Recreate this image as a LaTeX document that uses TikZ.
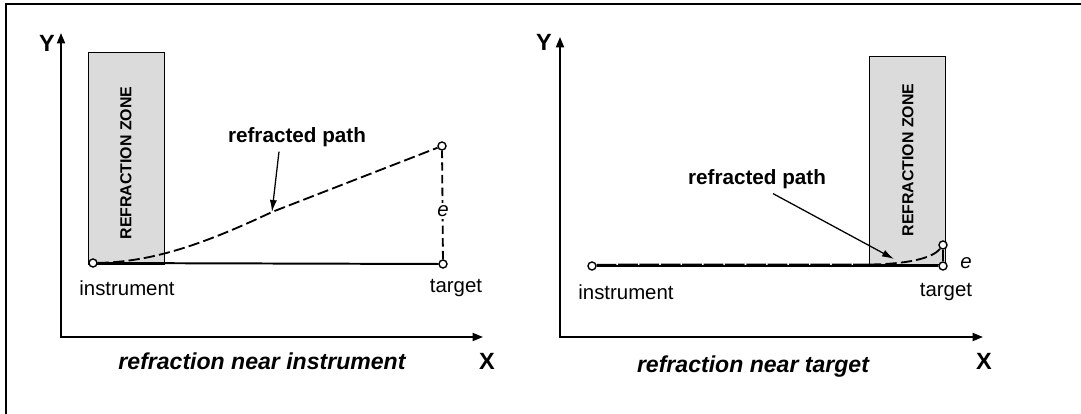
\documentclass[tikz,border=0pt]{standalone}
\usepackage{fontspec}
\setmainfont{Liberation Sans}
\usetikzlibrary{arrows.meta,positioning}
\tikzset{
    axes/.style={line width=1.4pt, {Triangle[length=2.6mm,width=2mm]}-{Triangle[length=2.6mm,width=2mm]}},
    zone/.style={draw, line width=0.6pt, fill=black!14, minimum width=1.9cm, inner sep=0pt},
    zonetext/.style={font=\bfseries\fontsize{11.3}{13}\selectfont, rotate=90},
    baseline/.style={line width=1.4pt},
    refracted/.style={line width=1.3pt, dash pattern=on 8pt off 3pt},
    offset/.style={line width=1.3pt, dash pattern=on 6pt off 3pt},
    station/.style={circle, draw, fill=white, line width=1pt, inner sep=0pt, minimum size=0.2cm},
    pointer/.style={line width=0.9pt, -{Latex[length=3mm,width=1.8mm]}},
    txt/.style={font=\fontsize{14.5}{17}\selectfont},
    pathlabel/.style={font=\bfseries\fontsize{14.7}{17}\selectfont},
    caption/.style={font=\bfseries\itshape\fontsize{16.4}{19}\selectfont},
    axislabel/.style={font=\bfseries\fontsize{16.7}{19}\selectfont},
}
\begin{document}
\begin{tikzpicture}[x=0.025cm, y=-0.025cm]
    \useasboundingbox (0,0) rectangle (1081,414);
    % --- frame ---
    \draw[line width=1.4pt] (6,420) -- (6,4) -- (1090,4);
    % --- refraction near instrument ---
    \node[zone, minimum height=5.3cm] (zone1) at (126,158) {};
    \node[zonetext] at (126,163) {REFRACTION ZONE};
    \coordinate (o1) at (61,337);
    \coordinate (ytip1) at (61,33);
    \coordinate (xtip1) at (483,337);
    \draw[axes] (ytip1) -- (o1) -- (xtip1);
    \node[axislabel] (y1) at (47,43) {Y};
    \node[axislabel] (x1) at (487,361) {X};
    \node[station] (ins1) at (93,263) {};
    \node[station] (tgt1) at (443,264) {};
    \node[station] (top1) at (442,146) {};
    \coordinate (bend1) at (272,212);
    \draw[baseline] (ins1) -- (tgt1);
    \draw[offset] (tgt1) -- (top1);
    \draw[refracted] (ins1) .. controls (150,262) and (200,246) .. (bend1) -- (top1);
    \node[txt, fill=white, inner sep=2pt] (e1) at (443,211) {\itshape e};
    \node[txt] (inslab1) at (127,288) {instrument};
    \node[txt] (tgtlab1) at (456,288) {target};
    \node[pathlabel] (lab1) at (297,137) {refracted path};
    \draw[pointer] ([xshift=-0.45cm]lab1.south) -- (bend1);
    \node[caption] (cap1) at (262,361) {refraction near instrument};
    % --- refraction near target ---
    \node[zone, minimum height=5.2cm] (zone2) at (907,160) {};
    \node[zonetext] at (908,160) {REFRACTION ZONE};
    \coordinate (o2) at (560,337);
    \coordinate (ytip2) at (560,37);
    \coordinate (xtip2) at (983,337);
    \draw[axes] (ytip2) -- (o2) -- (xtip2);
    \node[axislabel] (y2) at (544,42) {Y};
    \node[axislabel] (x2) at (984,361) {X};
    \node[station] (ins2) at (592,266) {};
    \node[station] (tgt2) at (943,266) {};
    \node[station] (top2) at (943,245) {};
    \coordinate (flat2) at (870,264.5);
    \coordinate (bend2) at (894,259);
    \draw[baseline] (ins2) -- (tgt2);
    \draw[line width=1pt] (tgt2) -- (top2);
    \draw[refracted, line width=1.2pt, dash pattern=on 14pt off 1.2pt] ([yshift=0.035cm]ins2.east) -- (flat2);
    \draw[refracted] (flat2) .. controls (905,264) and (932,259) .. (top2);
    \node[txt] (e2) at (966,263) {\itshape e};
    \node[txt] (inslab2) at (626,292) {instrument};
    \node[txt] (tgtlab2) at (946,292) {target};
    \node[pathlabel] (lab2) at (757,179) {refracted path};
    \draw[pointer] ([xshift=0.4cm]lab2.south) -- (bend2);
    \node[caption] (cap2) at (753,367) {refraction near target};
\end{tikzpicture}
\end{document}
